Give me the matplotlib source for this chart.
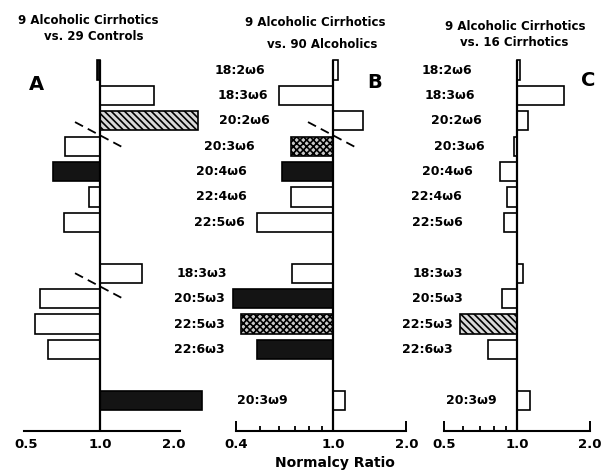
# 알코올성 간경변 환자의 지방산 정상비 (3개 패널)
import numpy as np
import matplotlib
matplotlib.use('Agg')
import matplotlib.pyplot as plt
import matplotlib.transforms as mtransforms
from matplotlib.ticker import FixedLocator, NullFormatter

acids = ['18:2ω6', '18:3ω6', '20:2ω6', '20:3ω6', '20:4ω6', '22:4ω6', '22:5ω6',
         '18:3ω3', '20:5ω3', '22:5ω3', '22:6ω3', '20:3ω9']

ratio_a = [0.97, 1.66, 2.52, 0.72, 0.64, 0.90, 0.71, 1.49, 0.57, 0.54, 0.61, 2.61]
ratio_b = [1.05, 0.60, 1.33, 0.67, 0.62, 0.67, 0.49, 0.68, 0.39, 0.42, 0.49, 1.12]
ratio_c = [1.03, 1.56, 1.11, 0.97, 0.85, 0.91, 0.88, 1.06, 0.87, 0.58, 0.76, 1.13]

# o: 빈 막대, f: 검정, h: 빗금, s: 점무늬
fill_a = ['f', 'o', 'h', 'o', 'f', 'o', 'o', 'o', 'o', 'o', 'o', 'f']
fill_b = ['o', 'o', 'o', 's', 'f', 'o', 'o', 'o', 'f', 's', 'f', 'o']
fill_c = ['o', 'o', 'o', 'o', 'o', 'o', 'o', 'o', 'o', 'h', 'o', 'o']

titles = ['9 Alcoholic Cirrhotics\nvs. 29 Controls',
          '9 Alcoholic Cirrhotics\nvs. 90 Alcoholics',
          '9 Alcoholic Cirrhotics\nvs. 16 Cirrhotics']
letters = ['A', 'B', 'C']

# 레이아웃 (픽셀)
W, H = 604, 470
rows = [0, 1, 2, 3, 4, 5, 6, 8, 9, 10, 11, 13]
TOP, BOT, Y0, PITCH = 55, 431, 70, 25.4
label_right_b = [265, 268, 270, 255, 247, 247, 245, 227, 225, 225, 225, 288]
label_right_c = [472, 475, 482, 485, 473, 462, 463, 463, 463, 453, 453, 497]

plt.rcParams['hatch.linewidth'] = 1.2
fig = plt.figure(figsize=(W / 100, H / 100), dpi=100)


def panel(c_px, s_px, left, right):
    ax = fig.add_axes([left / W, 1 - BOT / H, (right - left) / W, (BOT - TOP) / H])
    ax.set_xscale('log')
    ax.set_xlim(np.exp((left - c_px) / s_px), np.exp((right - c_px) / s_px))
    ax.set_ylim((BOT - Y0) / PITCH, (TOP - Y0) / PITCH)
    ax.patch.set_alpha(0)
    for s in ['top', 'right', 'left']:
        ax.spines[s].set_visible(False)
    ax.set_yticks([])
    return ax


def draw_bars(ax, vals, fills):
    for y, v, f in zip(rows, vals, fills):
        kw = dict(edgecolor='black', linewidth=1.2, height=0.75)
        if f == 'o':
            kw['color'] = 'white'
        elif f == 'f':
            kw['color'] = '#141414'
        elif f == 'h':
            kw['color'] = '#d8d8d8'
            kw['hatch'] = '\\\\\\\\\\'
        else:
            kw['color'] = '#c8c8c8'
            kw['hatch'] = 'xxxxx'
        ax.barh(y, v - 1, left=1, **kw)
    ax.vlines(1.0, -0.4, ax.get_ylim()[0], color='black', lw=1.6)


def axis_ticks(ax, lo, hi, major, minor, tlen):
    ax.spines['bottom'].set_bounds(lo, hi)
    ax.spines['bottom'].set_linewidth(1.5)
    ax.xaxis.set_major_locator(FixedLocator(major))
    ax.set_xticklabels(['%.1f' % m for m in major])
    ax.xaxis.set_minor_locator(FixedLocator(minor))
    ax.xaxis.set_minor_formatter(NullFormatter())
    ax.tick_params(axis='x', which='major', direction='in', length=tlen, width=1.4,
                   pad=5, labelsize=9.5)
    ax.tick_params(axis='x', which='minor', direction='in', length=tlen * 0.55, width=1.3)
    for t in ax.get_xticklabels():
        t.set_fontweight('bold')


def break_mark(ax, r):
    ax.plot([np.exp(-25 / 106), np.exp(23 / 106)], [r - 0.5, r + 0.5],
            color='black', lw=1.3, dashes=(5, 3))


ax_a = panel(100, 106, 20, 215)
draw_bars(ax_a, ratio_a, fill_a)
axis_ticks(ax_a, 0.49, 2.12, [0.5, 1.0, 2.0], [], 0)
break_mark(ax_a, 2.55)
break_mark(ax_a, 8.5)

ax_b = panel(333, 106, 225, 420)
draw_bars(ax_b, ratio_b, fill_b)
axis_ticks(ax_b, 0.4, 2.0, [0.4, 1.0, 2.0], [0.5, 0.6, 0.7, 0.8, 0.9], 7)
break_mark(ax_b, 2.55)

ax_c = panel(517, 105, 430, 600)
draw_bars(ax_c, ratio_c, fill_c)
axis_ticks(ax_c, 0.5, 2.0, [0.5, 1.0, 2.0], [0.6, 0.7, 0.8, 0.9], 7)

# 지방산 이름
tb = mtransforms.blended_transform_factory(fig.transFigure, ax_b.transData)
tc = mtransforms.blended_transform_factory(fig.transFigure, ax_c.transData)
for name, y, xb, xc in zip(acids, rows, label_right_b, label_right_c):
    fig.text(xb / W, y, name, transform=tb, ha='right', va='center',
             fontsize=9, fontweight='bold')
    fig.text(xc / W, y, name, transform=tc, ha='right', va='center',
             fontsize=9, fontweight='bold')

# 제목
title_pos = [[(88, 21), (94, 37)], [(315, 23), (322, 44)], [(515, 26), (514, 43)]]
for t, pos in zip(titles, title_pos):
    for line, (x, y) in zip(t.split('\n'), pos):
        fig.text(x / W, 1 - y / H, line, ha='center', va='center',
                 fontsize=8.5, fontweight='bold')

for L, (x, y) in zip(letters, [(36, 85), (375, 82), (588, 80)]):
    fig.text(x / W, 1 - y / H, L, ha='center', va='center', fontsize=14,
             fontweight='bold')

fig.text(335 / W, 1 - 456 / H, 'Normalcy Ratio', ha='center', va='top',
         fontsize=10, fontweight='bold')

fig.savefig('out.png', dpi=100)
